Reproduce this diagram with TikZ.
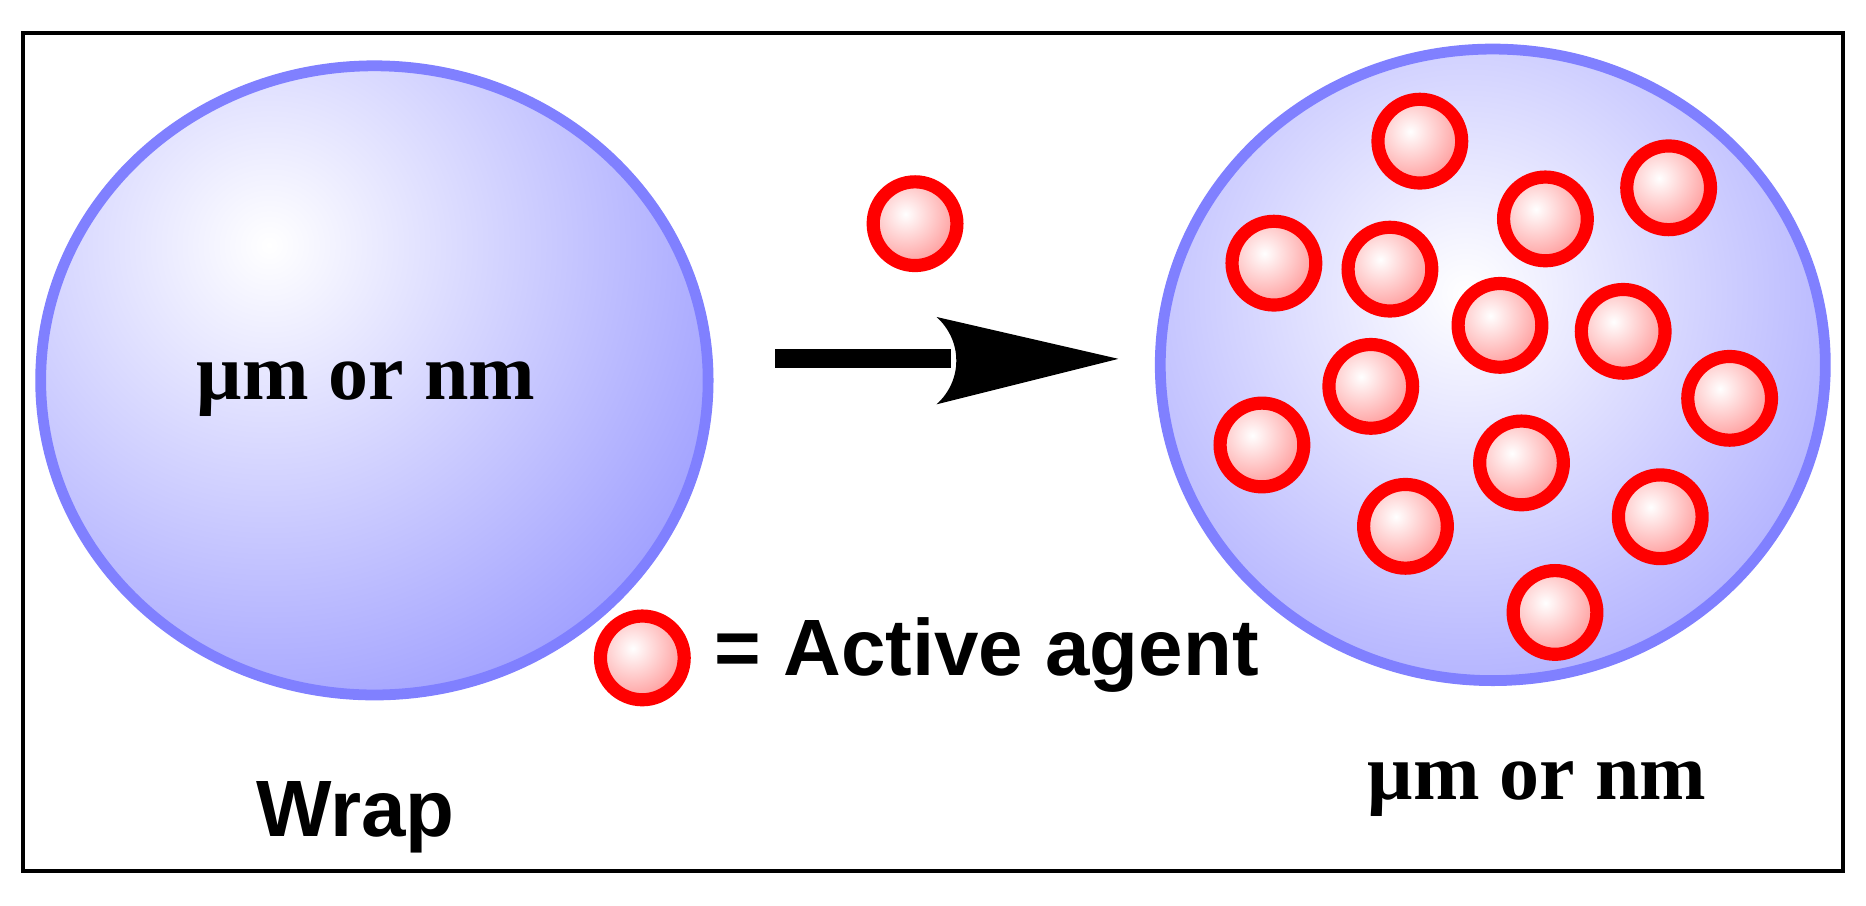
\documentclass[tikz,border=0pt]{standalone}
\usepackage{fontspec}
\setmainfont{Liberation Serif}
\setsansfont{Liberation Sans}
\begin{document}
\begin{tikzpicture}[x=0.01cm,y=-0.01cm]
\definecolor{sph}{RGB}{128,128,255}
\definecolor{ring}{RGB}{255,0,0}
\tikzset{
  lbl/.style={font=\fontsize{19}{22}\selectfont\bfseries},
  slbl/.style={font=\fontsize{19}{22}\selectfont\sffamily\bfseries}
}
\newcommand{\agentAt}[2]{%
  \begin{scope}
  \clip (#1,#2) circle (36);
  \shade[inner color=white, outer color=red!55] (#1-8,#2-8) circle (62);
  \end{scope}
  \draw[ring,line width=0.11cm] (#1,#2) circle (35);
}
\useasboundingbox (0,0) rectangle (1560,757);
\node[draw,line width=0.035cm,minimum width=15.2cm,minimum height=7cm,inner sep=0] (frame) at (780,378) {};
% left sphere
\begin{scope}
\clip (313,318) ellipse (283 and 267);
\shade[inner color=white, outer color=sph] (225,205) circle (560);
\end{scope}
\draw[sph,line width=0.09cm] (313,318) ellipse (279 and 263);
\node[lbl] (lt) at (306,325) {μm or nm};
% right sphere
\begin{scope}
\clip (1248,305) ellipse (282 and 268);
\shade[inner color=white, outer color=sph] (1225,245) circle (560);
\end{scope}
\draw[sph,line width=0.09cm] (1248,305) ellipse (278 and 264);
% arrow
\coordinate (a1) at (648,300);
\coordinate (a2) at (795,300);
\draw[line width=0.16cm] (a1) -- (a2);
\fill (935,300) -- (783,265) .. controls (805,285) and (805,318) .. (783,338) -- cycle;
% particles
\agentAt{765}{187}
\foreach \x/\y in {1187/118,1395/157,1292/183,1065/220,1162/225,1254/272,1357/277,1446/333,1146/323,1055/372,1272/387,1175/440,1388/432,1300/512}{\agentAt{\x}{\y}}
\agentAt{537}{550}
\node[slbl,anchor=west] (leg) at (585,548) {= Active agent};
\node[slbl] (wrap) at (297,683) {Wrap};
\node[lbl] (rt) at (1285,660) {μm or nm};
\end{tikzpicture}
\end{document}
